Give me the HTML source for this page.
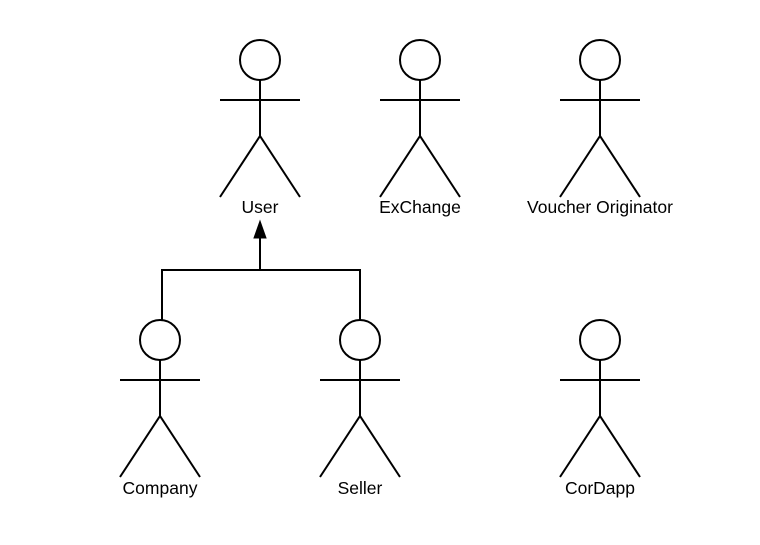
<!DOCTYPE html>
<html><head><style>body{margin:0;background:#fff}</style></head><body>
<svg width="760" height="540" viewBox="0 0 760 540" xmlns="http://www.w3.org/2000/svg">
<defs>
<g id="a" fill="none" stroke="#000" stroke-width="2">
<circle cx="0" cy="20" r="20" fill="#fff"/>
<line x1="0" y1="40" x2="0" y2="96"/>
<line x1="-40" y1="60" x2="40" y2="60"/>
<polyline points="-40,157 0,96 40,157"/>
</g>
</defs>
<use href="#a" x="260" y="40"/>
<use href="#a" x="420" y="40"/>
<use href="#a" x="600" y="40"/>
<use href="#a" x="160" y="320"/>
<use href="#a" x="360" y="320"/>
<use href="#a" x="600" y="320"/>
<g font-family="Liberation Sans, sans-serif" font-size="17.5" text-anchor="middle" fill="#000">
<text x="260" y="213">User</text>
<text x="420" y="213">ExChange</text>
<text x="600" y="213">Voucher Originator</text>
<text x="160" y="494">Company</text>
<text x="360" y="494">Seller</text>
<text x="600" y="494">CorDapp</text>
</g>
<polyline points="162,320 162,270 360,270 360,320" fill="none" stroke="#000" stroke-width="2"/>
<line x1="260" y1="270" x2="260" y2="236" stroke="#000" stroke-width="2"/>
<polygon points="260,221 254,238 266,238" fill="#000" stroke="#000" stroke-width="1"/>
</svg>
</body></html>
